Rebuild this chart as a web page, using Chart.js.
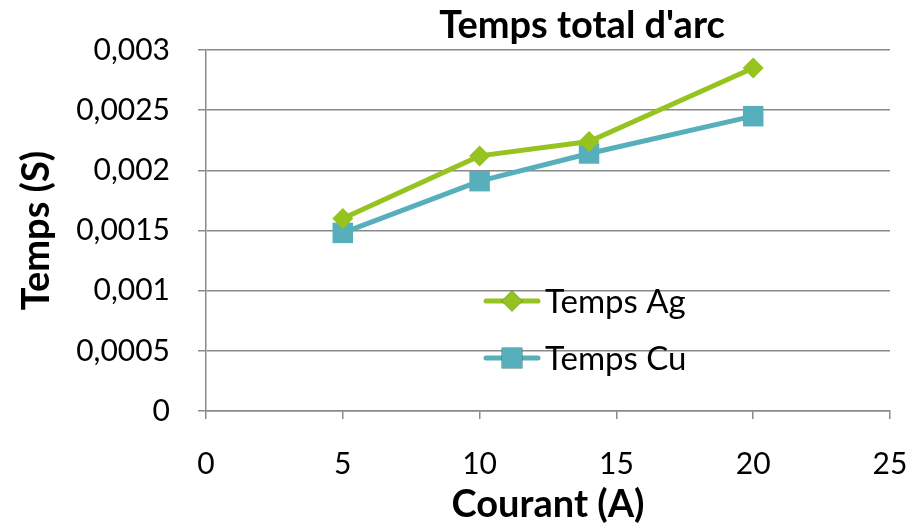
<!DOCTYPE html>
<html>
<head>
<meta charset="utf-8">
<script src="https://cdn.jsdelivr.net/npm/chart.js@4"></script>
<style>
  html, body { margin: 0; padding: 0; background: #fff; }
  canvas { display: block; }
</style>
</head>
<body>
<canvas id="arc-chart" width="914" height="525"></canvas>
<script>
// Courant (A) and arc time (s) for each contact material
const courant = [5, 10, 14, 20];
const tempsAg = [0.0016, 0.00212, 0.00224, 0.00285];
const tempsCu = [0.00148, 0.00191, 0.00214, 0.00245];

const FONT = 'Lato, "Open Sans", sans-serif';
const GREEN = '#96c31f';
const TEAL = '#56afbb';
const GRID = '#8a8a8a';

const toPoints = (xs, ys) => xs.map((x, i) => ({ x: x, y: ys[i] }));

// --- title and in-plot legend, drawn straight on the canvas ---
const decorPlugin = {
    id: 'decor',
    afterDraw(chart) {
        const ctx = chart.ctx;
        ctx.save();
        ctx.fillStyle = '#000';
        ctx.font = 'bold 38px ' + FONT;
        ctx.textAlign = 'center';
        ctx.textBaseline = 'alphabetic';
        ctx.fillText("Temps total d'arc", 582, 38);

        const rows = [
            { ds: chart.data.datasets[0], y: 301 },
            { ds: chart.data.datasets[1], y: 358 }
        ];
        ctx.font = '33px ' + FONT;
        ctx.textAlign = 'left';
        ctx.textBaseline = 'middle';
        rows.forEach(r => {
            ctx.strokeStyle = r.ds.borderColor;
            ctx.lineWidth = 5;
            ctx.lineCap = 'round';
            ctx.beginPath();
            ctx.moveTo(486, r.y);
            ctx.lineTo(538, r.y);
            ctx.stroke();
            Chart.helpers.drawPoint(ctx, {
                pointStyle: r.ds.pointStyle,
                radius: r.ds.pointRadius,
                borderWidth: 0
            }, 512, r.y);
            ctx.fillStyle = r.ds.backgroundColor;
            ctx.fill();
            ctx.fillStyle = '#000';
            ctx.fillText(r.ds.label, 545, r.y + 1);
        });
        ctx.restore();
    }
};

new Chart(document.getElementById('arc-chart').getContext('2d'), {
    type: 'line',
    data: {
        datasets: [
            {
                label: 'Temps Ag',
                data: toPoints(courant, tempsAg),
                borderColor: GREEN,
                backgroundColor: GREEN,
                borderWidth: 5,
                pointStyle: 'rectRot',
                pointRadius: 10.5,
                pointBorderWidth: 0
            },
            {
                label: 'Temps Cu',
                data: toPoints(courant, tempsCu),
                borderColor: TEAL,
                backgroundColor: TEAL,
                borderWidth: 5,
                pointStyle: 'rect',
                pointRadius: 14.5,
                pointBorderWidth: 0
            }
        ]
    },
    options: {
        responsive: false,
        animation: false,
        layout: { padding: { top: 50, right: 24, left: 0, bottom: 0 } },
        plugins: {
            legend: { display: false },
            title: { display: false },
            tooltip: { enabled: false }
        },
        scales: {
            x: {
                type: 'linear',
                min: 0,
                max: 25,
                ticks: {
                    stepSize: 5,
                    color: '#000',
                    font: { family: FONT, size: 30 },
                    padding: 27
                },
                grid: { drawOnChartArea: false, drawTicks: true, tickLength: 8, color: GRID, lineWidth: 1.5 },
                border: { color: GRID, width: 1.5 },
                title: {
                    display: true,
                    text: 'Courant (A)',
                    color: '#000',
                    font: { family: FONT, size: 38, weight: 'bold' },
                    padding: { top: 0, bottom: -3 }
                },
                afterFit(scale) {
                    // keep the plot edge where the layout padding puts it
                    scale.height = 114;
                    scale.paddingLeft = 0;
                    scale.paddingRight = 0;
                }
            },
            y: {
                min: 0,
                max: 0.003,
                ticks: {
                    stepSize: 0.0005,
                    color: '#000',
                    font: { family: FONT, size: 30 },
                    padding: 28,
                    callback: v => Number(v.toFixed(4)).toString().replace('.', ',')
                },
                grid: { color: GRID, lineWidth: 1.5, tickLength: 8 },
                border: { color: GRID, width: 1.5 },
                title: {
                    display: true,
                    text: 'Temps (S)',
                    color: '#000',
                    font: { family: FONT, size: 38, weight: 'bold' },
                    padding: { top: 14, bottom: 0 }
                },
                afterFit(scale) { scale.width = 206; }
            }
        }
    },
    plugins: [decorPlugin]
});
</script>
</body>
</html>
